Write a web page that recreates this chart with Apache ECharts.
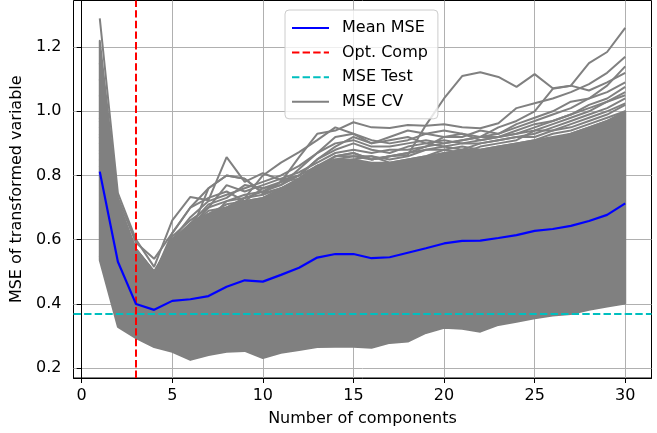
<!DOCTYPE html>
<html><head><meta charset="utf-8">
<script src="https://cdn.jsdelivr.net/npm/echarts@6/dist/echarts.min.js"></script>
<style>html,body{margin:0;padding:0;background:#fff}#c{width:657px;height:433px}</style>
</head><body><div id="c"></div>
<script>
// x values: number of components
const components = [1,2,3,4,5,6,7,8,9,10,11,12,13,14,15,16,17,18,19,20,21,22,23,24,25,26,27,28,29,30];
const xTicks = [0,5,10,15,20,25,30];
const yTicks = [0.2,0.4,0.6,0.8,1.0,1.2];
const optComp = 3;
const mseTest = 0.373;
const meanMse = [0.812,0.531,0.399,0.381,0.409,0.414,0.424,0.453,0.473,0.469,0.490,0.512,0.544,0.555,0.555,0.542,0.545,0.559,0.573,0.588,0.596,0.597,0.605,0.614,0.627,0.633,0.643,0.658,0.677,0.713];
// dense envelope of the CV curves
const cvLower = [0.536,0.328,0.293,0.265,0.250,0.225,0.240,0.250,0.253,0.231,0.247,0.256,0.265,0.266,0.266,0.263,0.278,0.282,0.309,0.325,0.322,0.313,0.334,0.344,0.355,0.363,0.368,0.381,0.391,0.401];
const cvUpper = [1.22,0.72,0.57,0.50,0.60,0.65,0.68,0.70,0.72,0.73,0.76,0.79,0.83,0.85,0.85,0.84,0.84,0.85,0.86,0.87,0.88,0.88,0.89,0.90,0.91,0.92,0.93,0.95,0.97,1.00];
// individual CV curves visible outside the dense region
const cvRun1 = [1.05,0.70,0.55,0.48,0.56,0.60,0.63,0.66,0.69,0.71,0.75,0.79,0.83,0.85,0.86,0.85,0.86,0.864,0.957,1.04,1.11,1.122,1.107,1.076,1.116,1.072,1.08,1.15,1.185,1.26];
const cvRun2 = [1.29,0.745,0.60,0.515,0.66,0.733,0.723,0.857,0.78,0.807,0.786,0.80,0.83,0.86,0.87,0.85,0.86,0.87,0.89,0.90,0.91,0.92,0.93,0.95,0.97,0.99,1.01,1.04,1.08,1.14];
const cvRun3 = [1.15,0.73,0.59,0.54,0.62,0.70,0.76,0.80,0.79,0.745,0.78,0.857,0.93,0.94,0.966,0.95,0.948,0.957,0.955,0.96,0.95,0.947,0.963,1.01,1.025,1.04,1.06,1.085,1.12,1.17];
const cvRun4 = [1.10,0.71,0.56,0.49,0.57,0.61,0.66,0.72,0.73,0.80,0.84,0.873,0.91,0.95,0.93,0.90,0.92,0.94,0.93,0.94,0.93,0.92,0.95,0.97,1.00,1.07,1.08,1.065,1.09,1.12];
const cvRun5 = [0.98,0.68,0.55,0.48,0.58,0.64,0.70,0.72,0.74,0.75,0.77,0.82,0.87,0.92,0.93,0.91,0.90,0.91,0.93,0.92,0.92,0.94,0.93,0.96,0.98,1.00,1.03,1.04,1.06,1.09];
const cvRun6 = [0.92,0.66,0.54,0.47,0.56,0.65,0.68,0.71,0.72,0.76,0.77,0.80,0.85,0.88,0.90,0.88,0.87,0.89,0.90,0.91,0.90,0.91,0.92,0.93,0.95,0.97,0.99,1.02,1.04,1.076];
const cvRun7 = [0.88,0.64,0.52,0.46,0.55,0.64,0.69,0.70,0.73,0.74,0.76,0.78,0.82,0.86,0.87,0.85,0.86,0.87,0.88,0.89,0.88,0.90,0.91,0.92,0.92,0.94,0.96,0.98,1.00,1.025];
const cvRun8 = [0.85,0.63,0.51,0.45,0.54,0.60,0.64,0.68,0.70,0.72,0.75,0.79,0.83,0.84,0.85,0.86,0.84,0.85,0.86,0.88,0.89,0.88,0.89,0.90,0.91,0.93,0.94,0.96,0.98,1.00];
const cvRun9 = [0.95,0.69,0.57,0.50,0.59,0.62,0.76,0.80,0.79,0.745,0.76,0.79,0.82,0.84,0.83,0.82,0.83,0.84,0.85,0.87,0.86,0.87,0.88,0.89,0.90,0.91,0.93,0.95,0.97,0.99];
const cvRun10 = [0.90,0.67,0.55,0.49,0.62,0.70,0.73,0.75,0.72,0.73,0.75,0.78,0.81,0.83,0.84,0.82,0.82,0.83,0.84,0.85,0.85,0.86,0.87,0.88,0.89,0.90,0.91,0.93,0.95,0.98];
const cvRun11 = [0.87,0.66,0.54,0.48,0.60,0.67,0.72,0.74,0.76,0.78,0.80,0.83,0.87,0.90,0.91,0.89,0.89,0.90,0.91,0.90,0.91,0.92,0.92,0.94,0.96,0.97,0.99,1.01,1.03,1.06];
const cvRun12 = [0.93,0.68,0.55,0.49,0.61,0.66,0.70,0.77,0.75,0.77,0.79,0.81,0.84,0.87,0.88,0.87,0.88,0.88,0.89,0.92,0.93,0.91,0.92,0.93,0.94,0.96,0.98,1.00,1.03,1.05];
const cvRun13 = [0.83,0.62,0.52,0.47,0.58,0.65,0.71,0.73,0.77,0.76,0.78,0.80,0.85,0.89,0.92,0.90,0.91,0.92,0.90,0.89,0.90,0.90,0.91,0.92,0.93,0.95,0.97,0.99,1.01,1.04];
const cvRun14 = [0.97,0.70,0.57,0.50,0.59,0.63,0.67,0.70,0.73,0.75,0.78,0.79,0.82,0.86,0.86,0.86,0.85,0.86,0.88,0.88,0.87,0.89,0.90,0.91,0.94,0.94,0.95,0.97,0.99,1.02];
const cvRunLow = [0.55,0.34,0.31,0.28,0.27,0.25,0.26,0.27,0.27,0.26,0.27,0.28,0.29,0.285,0.28,0.27,0.29,0.30,0.32,0.33,0.34,0.345,0.34,0.355,0.36,0.37,0.38,0.39,0.40,0.42];
const cvRuns = [cvRun1,cvRun2,cvRun3,cvRun4,cvRun5,cvRun6,cvRun7,cvRun8,cvRun9,cvRun10,cvRun11,cvRun12,cvRun13,cvRun14,cvRunLow];

const GRAY = '#808080';
const FONT = 'DejaVu Sans';
const pts = arr => components.map((c, i) => [c, arr[i]]);

const series = [];
cvRuns.forEach(r => series.push({
  name: 'MSE CV', type: 'line', data: pts(r), symbol: 'none',
  lineStyle: { color: GRAY, width: 2 }, itemStyle: { color: GRAY }, z: 2
}));
// dense band of CV curves, filled between lower and upper envelope
series.push({
  name: 'cvBand', type: 'custom', z: 2, silent: true,
  data: [[components[0], cvLower[0]]],
  renderItem: function (params, api) {
    const upper = components.map((c, i) => api.coord([c, cvUpper[i]]));
    const lower = components.map((c, i) => api.coord([c, cvLower[i]])).reverse();
    return {
      type: 'polygon',
      shape: { points: upper.concat(lower) },
      style: { fill: GRAY, stroke: GRAY, lineWidth: 2, lineJoin: 'round' }
    };
  }
});
series.push({
  name: 'Mean MSE', type: 'line', data: pts(meanMse), symbol: 'none',
  lineStyle: { color: '#0000ff', width: 2.2 }, itemStyle: { color: '#0000ff' }, z: 5
});
series.push({
  name: 'Opt. Comp', type: 'line', data: [], symbol: 'none',
  lineStyle: { color: '#ff0000', width: 2, type: [7.4, 3.2] }, itemStyle: { color: '#ff0000' }, z: 6,
  markLine: { silent: true, symbol: ['none', 'none'], label: { show: false },
    lineStyle: { color: '#ff0000', width: 2, type: [7.4, 3.2] }, data: [{ xAxis: optComp }] }
});
series.push({
  name: 'MSE Test', type: 'line', data: [], symbol: 'none',
  lineStyle: { color: '#00bfbf', width: 2, type: [7.4, 3.2] }, itemStyle: { color: '#00bfbf' }, z: 6,
  markLine: { silent: true, symbol: ['none', 'none'], label: { show: false },
    lineStyle: { color: '#00bfbf', width: 2, type: [7.4, 3.2] }, data: [{ yAxis: mseTest }] }
});

const axisCommon = {
  axisLine: { show: true, lineStyle: { color: '#000', width: 1 } },
  axisTick: { show: true, length: 5, lineStyle: { color: '#000', width: 1 } },
  splitLine: { show: true, lineStyle: { color: '#b0b0b0', width: 1 } },
  nameTextStyle: { fontFamily: FONT, fontSize: 16, color: '#000' }
};

const chart = echarts.init(document.getElementById('c'), null, { renderer: 'canvas' });
chart.setOption({
  animation: false,
  backgroundColor: '#fff',
  grid: { left: 73.5, right: 5.5, top: 0.5, bottom: 55, show: true, borderColor: '#000', borderWidth: 1, backgroundColor: 'transparent' },
  legend: {
    data: ['Mean MSE', 'Opt. Comp', 'MSE Test', 'MSE CV'],
    orient: 'vertical', left: 285, top: 10, z: 10,
    itemWidth: 37, itemHeight: 16, itemGap: 8.6,
    padding: [10, 10, 9, 6],
    backgroundColor: 'rgba(255,255,255,0.8)', borderColor: '#cccccc', borderWidth: 1, borderRadius: 4,
    itemStyle: { color: 'rgba(0,0,0,0)', borderWidth: 0, opacity: 0 },
    textStyle: { fontFamily: FONT, fontSize: 16, color: '#000', padding: [0, 0, 0, 8] },
    selectedMode: false
  },
  xAxis: Object.assign({}, axisCommon, {
    type: 'value', min: -0.45, max: 31.45,
    name: 'Number of components', nameLocation: 'middle', nameGap: 33,
    axisTick: Object.assign({}, axisCommon.axisTick, { customValues: xTicks }),
    axisLabel: { customValues: xTicks, fontFamily: FONT, fontSize: 16, color: '#000', margin: 10 }
  }),
  yAxis: Object.assign({}, axisCommon, {
    type: 'value', min: 0.1685, max: 1.3455,
    name: 'MSE of transformed variable', nameLocation: 'middle', nameGap: 45,
    axisTick: Object.assign({}, axisCommon.axisTick, { customValues: yTicks }),
    axisLabel: { customValues: yTicks, fontFamily: FONT, fontSize: 16, color: '#000', margin: 12,
      formatter: v => Number(v).toFixed(1) }
  }),
  series: series
});
</script>
</body></html>
